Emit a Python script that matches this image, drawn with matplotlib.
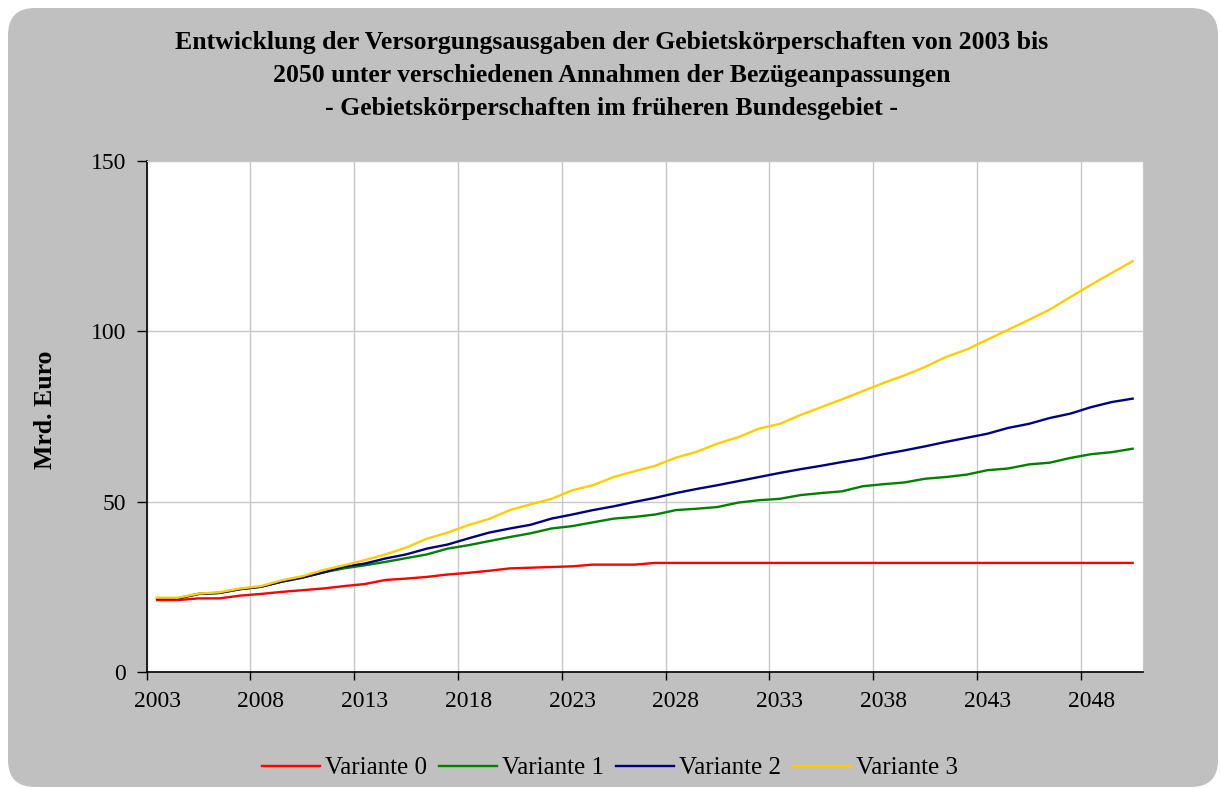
import numpy as np
import matplotlib.pyplot as plt
from matplotlib.patches import FancyBboxPatch
from matplotlib.ticker import FixedLocator, NullFormatter

plt.rcParams['font.family'] = ['Liberation Serif', 'DejaVu Serif']

# --- Daten (Mrd. Euro) ---
jahre = list(range(2003, 2051))

variante_0 = [21.1, 21.1, 21.6, 21.6, 22.4, 22.9, 23.5, 24.0, 24.5, 25.2,
              25.8, 27.0, 27.4, 27.9, 28.6, 29.1, 29.7, 30.4, 30.6, 30.8,
              31.0, 31.5, 31.5, 31.5, 32.0, 32.0, 32.0, 32.0, 32.0, 32.0,
              32.0, 32.0, 32.0, 32.0, 32.0, 32.0, 32.0, 32.0, 32.0, 32.0,
              32.0, 32.0, 32.0, 32.0, 32.0, 32.0, 32.0, 32.0]
variante_1 = [21.6, 21.6, 22.9, 23.2, 24.3, 25.0, 26.5, 27.7, 29.2, 30.4,
              31.3, 32.3, 33.4, 34.5, 36.2, 37.2, 38.4, 39.6, 40.7, 42.1,
              42.8, 43.9, 45.0, 45.5, 46.2, 47.5, 47.9, 48.4, 49.7, 50.4,
              50.8, 51.9, 52.5, 53.0, 54.5, 55.1, 55.6, 56.7, 57.2, 57.9,
              59.2, 59.7, 60.9, 61.4, 62.8, 63.9, 64.5, 65.5]
variante_2 = [21.6, 21.6, 22.9, 23.2, 24.3, 25.0, 26.5, 27.7, 29.2, 30.9,
              31.8, 33.3, 34.5, 36.2, 37.4, 39.2, 40.9, 42.1, 43.2, 45.0,
              46.2, 47.5, 48.6, 49.9, 51.1, 52.5, 53.7, 54.8, 56.0, 57.2,
              58.4, 59.5, 60.5, 61.6, 62.6, 63.9, 65.0, 66.2, 67.5, 68.7,
              69.9, 71.6, 72.8, 74.5, 75.8, 77.7, 79.2, 80.2]
variante_3 = [21.8, 21.8, 23.0, 23.4, 24.5, 25.2, 26.9, 28.1, 29.9, 31.3,
              32.8, 34.5, 36.5, 39.1, 40.9, 43.1, 44.9, 47.5, 49.2, 50.8,
              53.3, 54.8, 57.2, 58.9, 60.5, 62.9, 64.6, 67.0, 68.9, 71.4,
              72.8, 75.4, 77.7, 80.0, 82.4, 84.8, 87.0, 89.5, 92.4, 94.6,
              97.5, 100.4, 103.3, 106.3, 110.0, 113.6, 117.1, 120.5]

serien = [("Variante 0", variante_0, "#FF0000"),
          ("Variante 1", variante_1, "#008000"),
          ("Variante 2", variante_2, "#000080"),
          ("Variante 3", variante_3, "#FFCC00")]

titel = ["Entwicklung der Versorgungsausgaben der Gebietskörperschaften von 2003 bis",
         "2050 unter verschiedenen Annahmen der Bezügeanpassungen",
         "- Gebietskörperschaften im früheren Bundesgebiet -"]

# --- Grafik ---
fig = plt.figure(figsize=(12.2, 7.89), dpi=100)
fig.patch.set_facecolor("white")

# grauer Hintergrund mit runden Ecken
bg = FancyBboxPatch((0.08, 0.02), 12.10, 7.79,
                    boxstyle="round,pad=0,rounding_size=0.27",
                    transform=fig.dpi_scale_trans,
                    facecolor="#C0C0C0", edgecolor="none", zorder=-10)
fig.patches.append(bg)

for i, zeile in enumerate(titel):
    fig.text(0.5016, 1 - (43 + 32.5 * i) / 789, zeile, ha="center", va="center",
             fontsize=18.5, fontweight="bold")

ax = fig.add_axes([146.7 / 1220, 1 - 672 / 789, 996.3 / 1220, 511.3 / 789])
ax.set_facecolor("white")

for name, werte, farbe in serien:
    ax.plot(jahre, werte, color=farbe, linewidth=1.7, label=name)

ax.set_xlim(2002.5, 2050.5)
ax.set_ylim(0, 150)

# Kategorienachse: Striche zwischen den Jahren, Beschriftung in der Mitte
ax.xaxis.set_major_locator(FixedLocator(np.arange(2002.5, 2051, 5)))
ax.xaxis.set_major_formatter(NullFormatter())
ax.xaxis.set_minor_locator(FixedLocator(range(2003, 2051, 5)))
ax.set_xticklabels([str(j) for j in range(2003, 2051, 5)], minor=True)
ax.tick_params(axis="x", which="major", length=6, width=1, direction="out", color="black")
ax.tick_params(axis="x", which="minor", length=0, pad=14, labelsize=17)

ax.set_yticks([0, 50, 100, 150])
ax.tick_params(axis="y", length=7, width=1, direction="out", pad=8, labelsize=17)

ax.grid(True, which="major", color="#C8C8C8", linewidth=1)
ax.set_axisbelow(True)

for s in ["top", "right"]:
    ax.spines[s].set_color("#C8C8C8")
for s in ["left", "bottom"]:
    ax.spines[s].set_color("black")
    ax.spines[s].set_linewidth(1.2)

ax.set_ylabel("Mrd. Euro", fontsize=18.5, fontweight="bold")
ax.yaxis.set_label_coords(-0.090, 0.512)

fig.legend(loc="center", bbox_to_anchor=(0.5, 1 - 768 / 789), ncol=4,
           frameon=False, fontsize=18, handlelength=2.3, columnspacing=0.5,
           handletextpad=0.2)

fig.savefig("out.png", dpi=100, facecolor=fig.get_facecolor())
